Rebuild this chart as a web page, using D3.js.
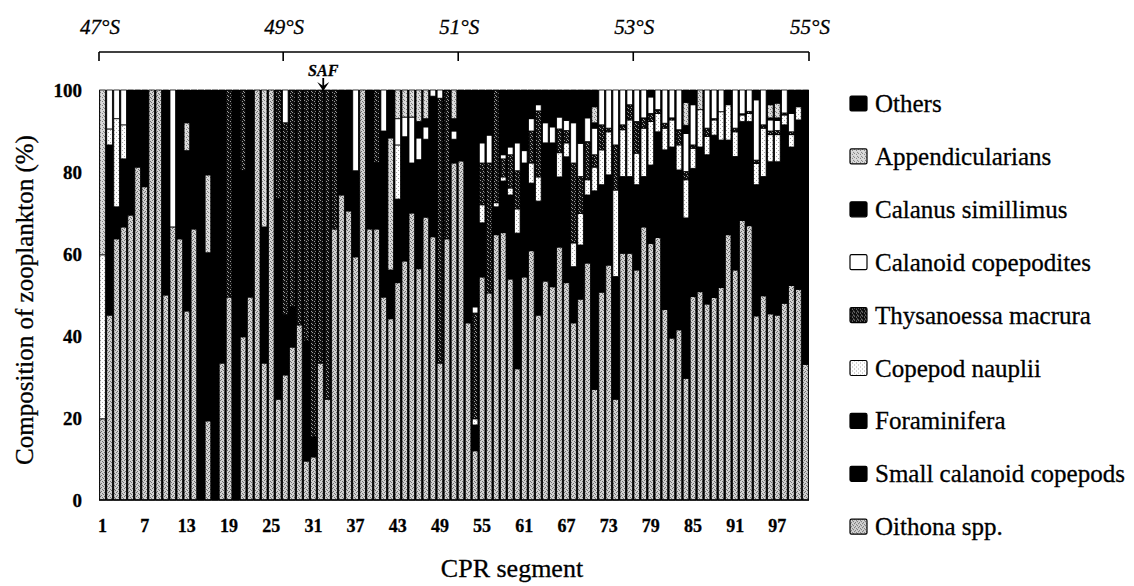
<!DOCTYPE html>
<html>
<head>
<meta charset="utf-8">
<script src="https://cdn.jsdelivr.net/npm/d3@7"></script>
<style>
body { margin: 0; background: #fff; }
svg { display: block; font-family: "Liberation Serif", "Times New Roman", serif; }
svg text { stroke: #000; stroke-width: 0.3px; }
</style>
</head>
<body>
<div id="chart"></div>
<script>
// CPR segments 1..101, composition in % per taxon
var segments = d3.range(1, 102)
var tickSegments = [1, 7, 13, 19, 25, 31, 37, 43, 49, 55, 61, 67, 73, 79, 85, 91, 97]
var yTicks = [0, 20, 40, 60, 80, 100]

var latLabels = ["47°S", "49°S", "51°S", "53°S", "55°S"]
var latSegPos = [0, 26.2, 51.1, 76, 101]   // in segment units along the track
var safSegPos = 31.9

var oithona = [
	19.8, 45.1, 63.7, 66.6, 69.5, 81.2, 76.4, 100, 100, 50,
	66.6, 63.7, 46.1, 66.1, 0, 19.3, 0, 33.4, 49.5, 0,
	39.8, 49.5, 100, 33.4, 100, 24.6, 30.5, 37.3, 42.7, 9.5,
	10.5, 33.4, 24.6, 66.1, 74.4, 70.5, 59.3, 100, 66.1, 66.1,
	49.5, 44.2, 53, 58.3, 70, 56.4, 69, 64.2, 33.4, 63.7,
	82.2, 82.7, 43.2, 12, 54.4, 50.5, 64.7, 65.2, 53.9, 32,
	54.4, 60.8, 45.1, 53.4, 52, 61.7, 53, 43.2, 49, 57.8,
	27, 50.7, 57.3, 24.6, 60.2, 60.2, 56.1, 66.6, 62.6, 64,
	46.5, 39.5, 41.5, 29.7, 49.6, 50.8, 47.8, 49.4, 51.8, 64.7,
	56.1, 68.2, 66.9, 44.9, 49.8, 45.4, 45.1, 48, 52.3, 51.4,
	33.1]
var smallCalanoid = [
	0, 41.5, 7.8, 16.6, 24, 18.8, 20.6, 0, 0, 42,
	0, 30.3, 39.1, 33.9, 40, 25, 30, 40, 0, 45,
	40.5, 35, 0, 33.2, 0, 48.8, 14.6, 9.8, 0, 29.3,
	4.9, 0, 0, 0, 25.6, 29.5, 21, 0, 33.9, 16.1,
	40.5, 11.9, 20.4, 30.3, 12.2, 26.6, 19, 34.3, 0, 0,
	5.8, 17.3, 56.8, 6.3, 13.2, 0, 6.8, 12.6, 20.5, 33.1,
	27.8, 16.5, 27.8, 33.7, 35.1, 17.1, 30.7, 13.7, 13.2, 16.6,
	48.4, 26.2, 22, 29.9, 18.7, 18.7, 20.8, 12.3, 19.1, 25.8,
	38.9, 46.6, 39, 39.1, 31.3, 35.3, 36.4, 39.6, 36, 23.1,
	27.7, 24.1, 25.4, 32, 29.1, 37.1, 37.4, 43.5, 33.8, 41.3,
	66.9]
var foraminifera = [
	0, 0, 0, 0, 6.5, 0, 3, 0, 0, 8,
	0, 6, 0, 0, 60, 16, 70, 26.6, 0, 55,
	0, 15.5, 0, 0, 0, 0, 0, 0, 0, 0,
	0, 0, 0, 0, 0, 0, 0, 0, 0, 0,
	0, 0, 0, 0, 0, 0, 0, 0, 0, 0,
	0, 0, 0, 0, 0, 0, 0, 0, 0, 0,
	0, 0, 0, 0, 0, 0, 0, 0, 0, 0,
	0, 0, 0, 0, 0, 0, 0, 0, 0, 0,
	0, 0, 0, 0, 0, 0, 0, 0, 0, 0,
	0, 0, 0, 0, 0, 0, 0, 0, 0, 0,
	0]
var nauplii = [
	40, 3.9, 21.5, 8.3, 0, 0, 0, 0, 0, 0,
	0, 0, 0, 0, 0, 0, 0, 0, 0, 0,
	0, 0, 0, 0, 0, 0, 0, 0, 0, 0,
	0, 0, 0, 0, 0, 0, 0, 0, 0, 0,
	0, 0, 13.2, 0, 0, 0, 0, 0, 0, 0,
	0, 0, 0, 1.5, 4.4, 0, 1, 1, 1.7, 5.9,
	0, 4.9, 5.9, 0, 0, 5.9, 3.4, 5.8, 7.7, 3.7,
	5.8, 8.5, 10.5, 21.1, 11.4, 13.8, 7.7, 11.8, 10.6, 4.5,
	5.3, 6.6, 6.1, 9.3, 4.9, 9.1, 4.5, 3.7, 6.9, 8.6,
	6, 1.6, 2, 5.2, 11.8, 6.6, 6.6, 2.4, 3, 3.2,
	0]
var thysanoessa = [
	0, 0, 0, 0, 0, 0, 0, 0, 0, 0,
	0, 0, 0, 0, 0, 0, 0, 0, 50.5, 0,
	19.7, 0, 0, 0, 0, 26.6, 46.9, 52.9, 57.3, 61.2,
	84.6, 66.6, 75.4, 33.9, 0, 0, 0, 0, 0, 17.8,
	0, 0, 0, 0, 0, 0, 0, 0, 64.6, 36.3,
	0, 0, 0, 25.8, 10.2, 31.7, 27.5, 4.4, 8.1, 9.3,
	0, 7.8, 16.1, 0, 0, 5.8, 3, 19.5, 9, 9.3,
	3, 6.1, 0.9, 11, 1.2, 3.7, 7.7, 2.5, 2, 0.9,
	1.2, 0.5, 3.7, 2, 0.8, 0, 2, 0.3, 0, 0,
	0.9, 0.3, 0.5, 0.8, 0.8, 0.9, 1, 0.5, 0.7, 0,
	0]
var copepodites = [
	0, 9.5, 7, 8.5, 0, 0, 0, 0, 0, 0,
	33.4, 0, 0, 0, 0, 0, 0, 0, 0, 0,
	0, 0, 0, 0, 0, 0, 8, 0, 0, 0,
	0, 0, 0, 0, 0, 0, 19.7, 0, 0, 0,
	10, 0, 6.4, 4.8, 11.2, 5.3, 3, 1.5, 2, 0,
	2, 0, 0, 1.5, 4.9, 6.8, 0, 1, 1.9, 6.8,
	3, 3, 1.5, 4.9, 3.9, 2.9, 2.5, 9.8, 8.1, 5.8,
	6.5, 8.5, 9.3, 13.4, 8.5, 3.6, 7.7, 6.8, 4, 4.8,
	8.1, 6.8, 9.7, 9.3, 9.8, 0, 9.3, 7, 5.3, 0,
	9.3, 5.8, 5.2, 14.7, 8.5, 2.7, 2.5, 5.6, 4.5, 0,
	0]
var calanus = [
	0, 0, 0, 0, 0, 0, 0, 0, 0, 0,
	0, 0, 0, 0, 0, 0, 0, 0, 0, 0,
	0, 0, 0, 0, 0, 0, 0, 0, 0, 0,
	0, 0, 0, 0, 0, 0, 0, 0, 0, 0,
	0, 0, 0, 0, 0, 4, 2, 0, 0, 0,
	3, 0, 0, 52.9, 12.9, 11, 0, 15.8, 13.9, 12.9,
	14.8, 7, 3.6, 8, 9, 6.6, 7.4, 8, 12, 6.8,
	1.3, 0, 0, 0, 0, 0, 0, 0, 1.7, 0,
	0, 0, 0, 2, 3.6, 0, 0, 0, 0, 0,
	0, 0, 0, 2.4, 0, 0.5, 0.6, 0, 5.7, 0,
	0]
var appendicularians = [
	40.2, 0, 0, 0, 0, 0, 0, 0, 0, 0,
	0, 0, 6.8, 0, 0, 19, 0, 0, 0, 0,
	0, 0, 0, 33.4, 0, 0, 0, 0, 0, 0,
	0, 0, 0, 0, 0, 0, 0, 0, 0, 0,
	0, 32.2, 7, 6.6, 6.6, 7.7, 7, 0, 0, 0,
	7, 0, 0, 0, 0, 0, 0, 0, 0, 0,
	0, 0, 0, 0, 0, 0, 0, 0, 0, 0,
	3.9, 0, 0, 0, 0, 0, 0, 0, 0, 0,
	0, 0, 0, 5.6, 0, 4.8, 0, 0, 0, 0,
	0, 0, 0, 0, 0, 3.2, 3.6, 0, 0, 0,
	0]
var others = [
	0, 0, 0, 0, 0, 0, 0, 0, 0, 0,
	0, 0, 8, 0, 0, 20.7, 0, 0, 0, 0,
	0, 0, 0, 0, 0, 0, 0, 0, 0, 0,
	0, 0, 0, 0, 0, 0, 0, 0, 0, 0,
	0, 11.7, 0, 0, 0, 0, 0, 0, 0, 0,
	0, 0, 0, 0, 0, 0, 0, 0, 0, 0,
	0, 0, 0, 0, 0, 0, 0, 0, 1, 0,
	4.1, 0, 0, 0, 0, 0, 0, 0, 0, 0,
	0, 0, 0, 3, 0, 0, 0, 0, 0, 3.6,
	0, 0, 0, 0, 0, 3.6, 3.2, 0, 0, 4.1,
	0]

// stacking order, bottom to top
var taxa = [
	{key: "oith",  name: "Oithona spp.",            values: oithona,          fill: "url(#p-oith)"},
	{key: "small", name: "Small calanoid copepods", values: smallCalanoid,    fill: "#000"},
	{key: "foram", name: "Foraminifera",            values: foraminifera,     fill: "#000"},
	{key: "naup",  name: "Copepod nauplii",         values: nauplii,          fill: "url(#p-naup)"},
	{key: "thys",  name: "Thysanoessa macrura",     values: thysanoessa,      fill: "url(#p-thys)"},
	{key: "cope",  name: "Calanoid copepodites",    values: copepodites,      fill: "#fff"},
	{key: "cal",   name: "Calanus simillimus",      values: calanus,          fill: "#000"},
	{key: "app",   name: "Appendicularians",        values: appendicularians, fill: "url(#p-app)"},
	{key: "oth",   name: "Others",                  values: others,           fill: "#000"}
]

var W = 1134, H = 586
var plot = {left: 99, right: 809, top: 90, bottom: 500}

var svg = d3.select("#chart").append("svg")
	.attr("width", W)
	.attr("height", H)

// stipple patterns
var defs = svg.append("defs")
function dotPattern(id, w, h, bg, dot, pts) {
	var p = defs.append("pattern")
		.attr("id", id)
		.attr("patternUnits", "userSpaceOnUse")
		.attr("width", w)
		.attr("height", h)
	p.append("rect").attr("width", w).attr("height", h).attr("fill", bg)
	pts.forEach(function(q) {
		p.append("rect").attr("x", q[0]).attr("y", q[1]).attr("width", 1).attr("height", 1).attr("fill", dot)
	})
}
dotPattern("p-oith", 4, 4, "#d2d2d2", "#6e6e6e", [[0,0],[2,1],[1,3],[3,2]])
dotPattern("p-app", 4, 4, "#dadada", "#808080", [[0,0],[2,1],[3,3]])
dotPattern("p-naup", 4, 4, "#ffffff", "#a8a8a8", [[0,0],[2,2]])
dotPattern("p-thys", 4, 4, "#101010", "#9a9a9a", [[0,0],[2,1],[3,3]])

var rows = segments.map(function(s, i) {
	var r = {seg: s}
	taxa.forEach(function(t) { r[t.key] = t.values[i] })
	return r
})

var x = d3.scaleBand()
	.domain(segments)
	.range([plot.left, plot.right])
	.paddingInner(0)
var segX = d3.scaleLinear()
	.domain([0, segments.length])
	.range([plot.left, plot.right])
var y = d3.scaleLinear()
	.domain([0, 100])
	.range([plot.bottom, plot.top])

var stack = d3.stack().keys(taxa.map(function(t) { return t.key }))
var series = stack(rows)

svg.append("rect")
	.attr("x", plot.left)
	.attr("y", plot.top)
	.attr("width", plot.right - plot.left)
	.attr("height", plot.bottom - plot.top)
	.attr("fill", "#000")

var bw = x.bandwidth()
svg.append("g").attr("class", "layers")
	.selectAll("g")
	.data(series)
	.enter()
	.append("g")
	.attr("fill", function(d, i) { return taxa[i].fill })
	.selectAll("rect")
	.data(function(d) { return d.filter(function(v) { return v[1] - v[0] > 0 }) })
	.enter()
	.append("rect")
	.attr("x", function(d) { return x(d.data.seg) + 0.7 })
	.attr("width", bw - 1.4)
	.attr("y", function(d) { return y(Math.min(100, d[1])) })
	.attr("height", function(d) { return Math.max(0, y(d[0]) - y(Math.min(100, d[1]))) })
	.attr("stroke", "#000")
	.attr("stroke-width", 0.8)

svg.append("line")
	.attr("x1", plot.left).attr("x2", plot.right)
	.attr("y1", plot.bottom).attr("y2", plot.bottom)
	.attr("stroke", "#000").attr("stroke-width", 1.5)

// y axis
var yAxis = svg.append("g")
	.attr("transform", "translate(" + plot.left + ",0)")
	.call(d3.axisLeft(y).tickValues(yTicks).tickSize(0).tickPadding(17))
yAxis.select(".domain").remove()
yAxis.selectAll("text")
	.attr("font-family", "Liberation Serif")
	.attr("font-size", 19)
	.attr("font-weight", "bold")
	.attr("fill", "#000")

// x axis
var xAxis = svg.append("g")
	.attr("transform", "translate(0," + plot.bottom + ")")
	.call(d3.axisBottom(x).tickValues(tickSegments).tickSize(0).tickPadding(19))
xAxis.select(".domain").remove()
xAxis.selectAll("text")
	.attr("font-family", "Liberation Serif")
	.attr("font-size", 18)
	.attr("font-weight", "bold")
	.attr("fill", "#000")

svg.append("text")
	.attr("transform", "translate(33,300) rotate(-90)")
	.attr("text-anchor", "middle")
	.attr("font-size", 25)
	.text("Composition of zooplankton (%)")

svg.append("text")
	.attr("x", 512)
	.attr("y", 577)
	.attr("text-anchor", "middle")
	.attr("font-size", 26)
	.text("CPR segment")

// latitude bar across the top
var lat = svg.append("g")
lat.append("line")
	.attr("x1", segX(latSegPos[0])).attr("x2", segX(latSegPos[latSegPos.length - 1]))
	.attr("y1", 52).attr("y2", 52)
	.attr("stroke", "#000").attr("stroke-width", 1.6)
lat.selectAll(".lt")
	.data(latSegPos)
	.enter()
	.append("line")
	.attr("x1", function(d) { return segX(d) })
	.attr("x2", function(d) { return segX(d) })
	.attr("y1", 52).attr("y2", 61)
	.attr("stroke", "#000").attr("stroke-width", 1.6)
lat.selectAll("text")
	.data(latSegPos)
	.enter()
	.append("text")
	.attr("x", function(d) { return segX(d) + 1 })
	.attr("y", 34)
	.attr("text-anchor", "middle")
	.attr("font-size", 21)
	.attr("font-style", "italic")
	.text(function(d, i) { return latLabels[i] })

// sub-Antarctic front marker
var sx = segX(safSegPos)
svg.append("text")
	.attr("x", sx)
	.attr("y", 76)
	.attr("text-anchor", "middle")
	.attr("font-size", 16)
	.attr("font-weight", "bold")
	.attr("font-style", "italic")
	.text("SAF")
svg.append("line")
	.attr("x1", sx).attr("x2", sx)
	.attr("y1", 78).attr("y2", 91)
	.attr("stroke", "#000").attr("stroke-width", 1.8)
svg.append("path")
	.attr("d", "M" + (sx - 6) + ",82 L" + sx + ",91 L" + (sx + 6) + ",82 L" + sx + ",86 Z")
	.attr("fill", "#000")

// legend, top entry is the top of the stack
var legend = svg.append("g")
	.selectAll("g")
	.data(taxa.slice().reverse())
	.enter()
	.append("g")
	.attr("transform", function(d, i) { return "translate(850," + (112 + i * 52.9) + ")" })
legend.append("rect")
	.attr("x", 0)
	.attr("y", -16)
	.attr("width", 17)
	.attr("height", 15)
	.attr("rx", 1.5)
	.attr("fill", function(d) { return d.fill })
	.attr("stroke", "#000")
	.attr("stroke-width", 1.2)
legend.append("text")
	.attr("x", 25)
	.attr("y", 0)
	.attr("font-size", 25)
	.text(function(d) { return d.name })
</script>
</body>
</html>
